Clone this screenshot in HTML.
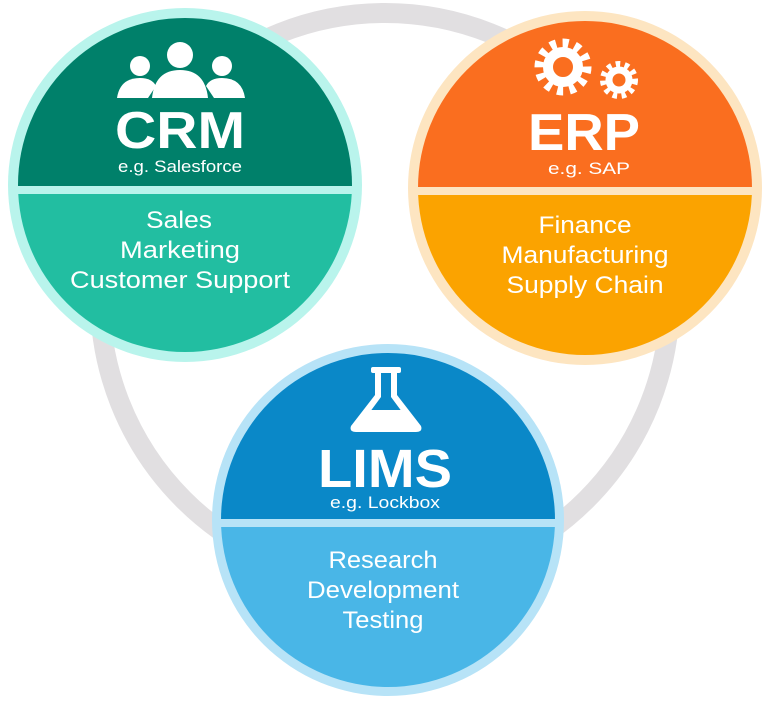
<!DOCTYPE html>
<html><head><style>
html,body{margin:0;padding:0;background:#fff;}
svg{display:block;}
text{font-family:"Liberation Sans",sans-serif;fill:#fff;text-anchor:middle;}
</style></head><body>
<svg width="768" height="702" viewBox="0 0 768 702">
<circle cx="385" cy="298" r="285" fill="none" stroke="#e1dfe1" stroke-width="20"/>
<defs>
<clipPath id="c1"><circle cx="185" cy="185" r="167"/></clipPath>
<clipPath id="c2"><circle cx="585" cy="188" r="167"/></clipPath>
<clipPath id="c3"><circle cx="388" cy="520" r="167"/></clipPath>
</defs>

<!-- CRM -->
<circle cx="185" cy="185" r="177" fill="#b9f4ec"/>
<g clip-path="url(#c1)">
<rect x="0" y="0" width="380" height="186" fill="#00806a"/>
<rect x="0" y="194" width="380" height="200" fill="#22bea1"/>
</g>
<g fill="#fff">
<circle cx="180" cy="55" r="13"/>
<path d="M152 98 Q155 70 180 70 Q205 70 208 98 Z"/>
<circle cx="140" cy="66" r="10"/>
<path d="M117 98 Q120 78 140 78 Q152 78 156 86 L148 98 Z"/>
<circle cx="222" cy="66" r="10"/>
<path d="M245 98 Q242 78 222 78 Q210 78 206 86 L214 98 Z"/>
</g>
<text x="180" y="148" font-size="52" font-weight="bold" textLength="130" lengthAdjust="spacingAndGlyphs">CRM</text>
<text x="180" y="172" font-size="17" textLength="124" lengthAdjust="spacingAndGlyphs">e.g. Salesforce</text>
<text x="179" y="228" font-size="24" textLength="66" lengthAdjust="spacingAndGlyphs">Sales</text>
<text x="180" y="258" font-size="24" textLength="120" lengthAdjust="spacingAndGlyphs">Marketing</text>
<text x="180" y="288" font-size="24" textLength="220" lengthAdjust="spacingAndGlyphs">Customer Support</text>

<!-- ERP -->
<circle cx="585" cy="188" r="177" fill="#fde5c1"/>
<g clip-path="url(#c2)">
<rect x="400" y="0" width="380" height="187" fill="#fa6e1f"/>
<rect x="400" y="195" width="380" height="200" fill="#fba300"/>
</g>
<g fill="none" stroke="#fff">
<circle cx="563" cy="67" r="15" stroke-width="10"/>
<circle cx="563" cy="67" r="24" stroke-width="9" stroke-dasharray="6 6.5"/>
<circle cx="619" cy="80" r="10" stroke-width="7"/>
<circle cx="619" cy="80" r="16" stroke-width="6" stroke-dasharray="4.5 4.5"/>
</g>
<text x="584" y="150" font-size="52" font-weight="bold" textLength="112" lengthAdjust="spacingAndGlyphs">ERP</text>
<text x="589" y="174" font-size="17" textLength="82" lengthAdjust="spacingAndGlyphs">e.g. SAP</text>
<text x="585" y="233" font-size="24" textLength="93" lengthAdjust="spacingAndGlyphs">Finance</text>
<text x="585" y="263" font-size="24" textLength="167" lengthAdjust="spacingAndGlyphs">Manufacturing</text>
<text x="585" y="293" font-size="24" textLength="157" lengthAdjust="spacingAndGlyphs">Supply Chain</text>

<!-- LIMS -->
<circle cx="388" cy="520" r="176" fill="#b7e3f7"/>
<g clip-path="url(#c3)">
<rect x="200" y="330" width="380" height="189" fill="#0a88c8"/>
<rect x="200" y="527" width="380" height="200" fill="#49b6e7"/>
</g>
<g fill="#fff">
<rect x="371" y="367" width="30" height="6" rx="2"/>
<path d="M375 373 L375 395 L351 426 Q349 432 356 432 L416 432 Q423 432 421 426 L397 395 L397 373 L391 373 L391 397 L411 424 L361 424 L381 397 L381 373 Z"/>
<path d="M365 410 L407 410 L414 424 L358 424 Z"/>
</g>
<text x="385" y="487" font-size="54" font-weight="bold" textLength="134" lengthAdjust="spacingAndGlyphs">LIMS</text>
<text x="385" y="508" font-size="17" textLength="110" lengthAdjust="spacingAndGlyphs">e.g. Lockbox</text>
<text x="383" y="568" font-size="24" textLength="109" lengthAdjust="spacingAndGlyphs">Research</text>
<text x="383" y="598" font-size="24" textLength="152" lengthAdjust="spacingAndGlyphs">Development</text>
<text x="383" y="628" font-size="24" textLength="81" lengthAdjust="spacingAndGlyphs">Testing</text>
</svg>
</body></html>
